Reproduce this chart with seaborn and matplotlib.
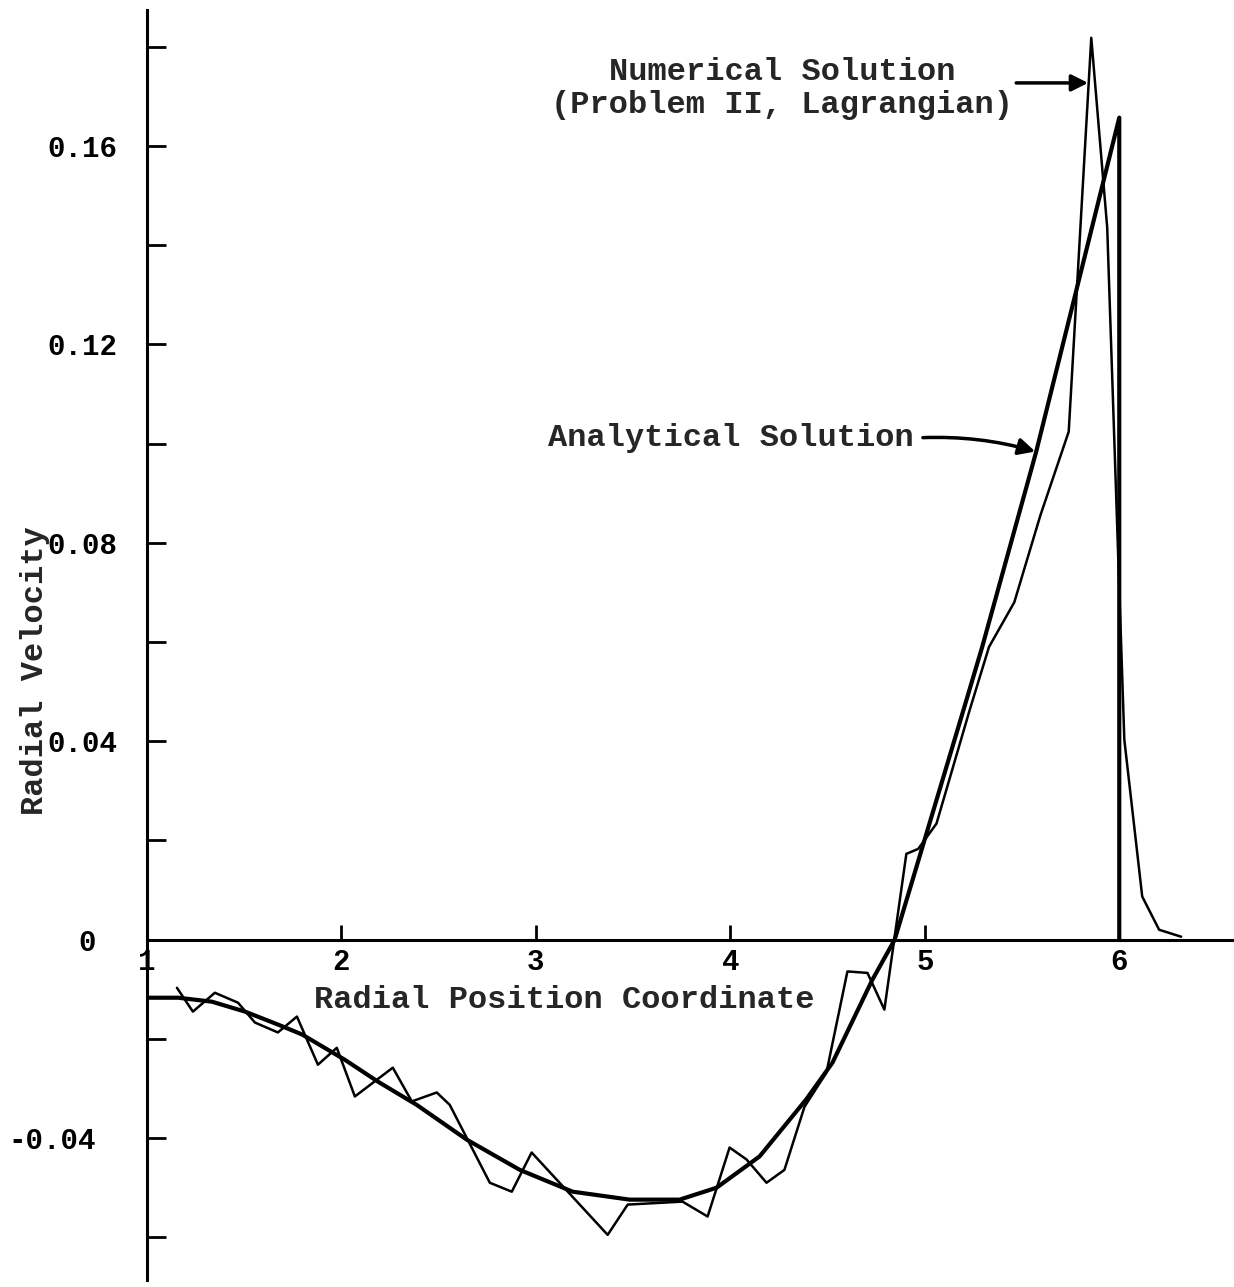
import matplotlib
matplotlib.use("Agg")
import matplotlib.pyplot as plt
import matplotlib.transforms as mtransforms
import seaborn as sns

# ---- data ----
analytic_x = [1.00, 1.16, 1.334, 1.504, 1.673, 1.797, 2.017, 2.187, 2.387, 2.644,
              2.917, 3.189, 3.482, 3.739, 3.929, 4.15, 4.39, 4.525, 4.73, 4.845,
              5.198, 5.295, 5.573, 6.00, 6.00]
analytic_y = [-0.0117, -0.0117, -0.0125, -0.0145, -0.0171, -0.0191, -0.0242, -0.0286,
              -0.0333, -0.0403, -0.0464, -0.0508, -0.0524, -0.0524, -0.0500, -0.0437,
              -0.0322, -0.0248, -0.0081, 0.0, 0.0462, 0.0590, 0.0984, 0.1657, 0.0]

numeric_x = [1.154, 1.236, 1.349, 1.468, 1.555, 1.673, 1.771, 1.879, 1.976, 2.069,
             2.264, 2.362, 2.49, 2.557, 2.763, 2.876, 2.978, 3.369, 3.472, 3.754,
             3.883, 3.996, 4.083, 4.186, 4.278, 4.381, 4.494, 4.602, 4.705, 4.792,
             4.905, 4.966, 5.06, 5.23, 5.33, 5.46, 5.594, 5.74, 5.856, 5.938,
             6.026, 6.118, 6.205, 6.318]
numeric_y = [-0.0097, -0.0145, -0.0107, -0.0127, -0.0167, -0.0187, -0.0155, -0.0252,
             -0.0218, -0.0316, -0.0258, -0.0326, -0.0308, -0.0333, -0.0490, -0.0508,
             -0.0429, -0.0595, -0.0534, -0.0528, -0.0558, -0.0419, -0.0443, -0.0490,
             -0.0464, -0.0337, -0.0268, -0.0064, -0.0067, -0.0141, 0.0173, 0.0183,
             0.0234, 0.0462, 0.0590, 0.0680, 0.0855, 0.1024, 0.1818, 0.1435, 0.0403,
             0.0087, 0.0020, 0.0006]

x_ticks = [1, 2, 3, 4, 5, 6]
x_tick_labels = ["1", "2", "3", "4", "5", "6"]
y_ticks = [-0.04, 0.0, 0.04, 0.08, 0.12, 0.16]
y_tick_labels = ["-0.04", "0", "0.04", "0.08", "0.12", "0.16"]
y_minor_ticks = [-0.06, -0.02, 0.02, 0.06, 0.10, 0.14, 0.18]

x_label = "Radial Position Coordinate"
y_label = "Radial Velocity"
numeric_label = "Numerical Solution\n(Problem II, Lagrangian)"
analytic_label = "Analytical Solution"

# ---- style ----
sns.set_style("white")
plt.rcParams["font.family"] = ["Liberation Mono", "DejaVu Sans Mono"]
plt.rcParams["font.weight"] = "bold"

fig = plt.figure(figsize=(12.34, 12.87), dpi=100)
ax = fig.add_axes([147 / 1234, 7 / 1287, 1087 / 1234, 1270 / 1287])

sns.lineplot(x=analytic_x, y=analytic_y, sort=False, estimator=None,
             color="black", linewidth=3.0, ax=ax)
sns.lineplot(x=numeric_x, y=numeric_y, sort=False, estimator=None,
             color="black", linewidth=1.8, ax=ax)

ax.set_xlim(1.0, 6.59)
ax.set_ylim(-0.0686, 0.1874)

for s in ["top", "right"]:
    ax.spines[s].set_visible(False)
ax.spines["bottom"].set_position(("data", 0))
for s in ["left", "bottom"]:
    ax.spines[s].set_linewidth(2.2)
    ax.spines[s].set_color("black")

ax.set_xticks(x_ticks)
ax.set_xticklabels(x_tick_labels, fontsize=21, fontweight="bold")
ax.set_yticks(y_ticks)
ax.set_yticklabels(y_tick_labels, fontsize=21, fontweight="bold")
ax.set_yticks(y_minor_ticks, minor=True)

ax.tick_params(axis="x", bottom=True, direction="in", length=11, width=2,
               pad=6, colors="black")
ax.tick_params(axis="y", which="both", left=True, direction="in", length=14,
               width=2, pad=21, colors="black")

# typewritten labels "0" and "-0.04" sit a little further left
shift = mtransforms.ScaledTranslation(-0.22, 0, fig.dpi_scale_trans)
for lab in ax.get_yticklabels():
    if lab.get_text() in ("0", "-0.04"):
        lab.set_transform(lab.get_transform() + shift)

ax.set_xlabel(x_label, fontsize=23, fontweight="bold")
ax.xaxis.set_label_coords(0.3836, 0.232)
ax.xaxis.label.set_va("top")
ax.set_ylabel(y_label, fontsize=23, fontweight="bold")
ax.yaxis.set_label_coords(-0.089, 0.48)

# annotations
ax.text(4.267, 0.1715, numeric_label, ha="center", va="center",
        fontsize=23, fontweight="bold", linespacing=1.12)
ax.annotate("", xy=(5.84, 0.1727), xytext=(5.47, 0.1727),
            arrowprops=dict(arrowstyle="-|>", color="black", lw=2.5,
                            mutation_scale=25, shrinkA=0, shrinkB=0))

ax.text(3.063, 0.1012, analytic_label, ha="left", va="center",
        fontsize=23, fontweight="bold")
ax.annotate("", xy=(5.568, 0.0984), xytext=(4.99, 0.1012),
            arrowprops=dict(arrowstyle="-|>", color="black", lw=2.5,
                            mutation_scale=25, shrinkA=0, shrinkB=0,
                            connectionstyle="arc3,rad=-0.08"))

fig.savefig("out.png", dpi=100)
